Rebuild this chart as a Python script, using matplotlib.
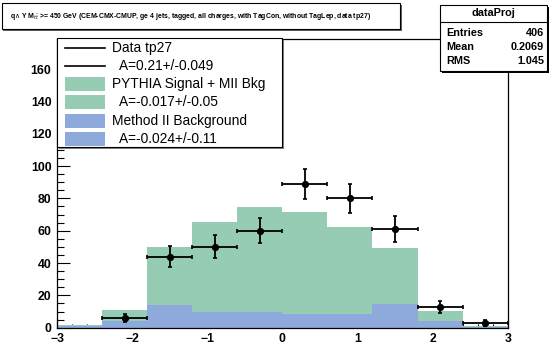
import matplotlib.pyplot as plt
from matplotlib.patches import Rectangle
from matplotlib.lines import Line2D
from matplotlib.ticker import MultipleLocator
import numpy as np

plt.rcParams['font.family'] = ['Liberation Sans', 'DejaVu Sans']

# binning and contents
bin_edges = [-3.0, -2.4, -1.8, -1.2, -0.6, 0.0, 0.6, 1.2, 1.8, 2.4, 3.0]
pythia_total = [1.5, 11, 50, 65.5, 74.5, 71.5, 62.5, 49, 10.5, 1.0]
method2_bkg = [1.0, 4.2, 14, 9.8, 10, 8.5, 8.5, 14.5, 4.3, 0.7]
data_counts = [0, 6, 44, 50, 60, 89, 80, 61, 13, 3]

legend_labels = ['Data tp27', '  A=0.21+/-0.049',
                 'PYTHIA Signal + MII Bkg', '  A=-0.017+/-0.05',
                 'Method II Background', '  A=-0.024+/-0.11']
stats_names = ['Entries', 'Mean', 'RMS']
stats_values = ['406', '0.2069', '1.045']
title_text = (r'q$\wedge$ Y M$_{t\bar{t}}$ >= 450 GeV (CEM-CMX-CMUP, ge 4 jets, tagged, '
              'all charges, with TagCon, without TagLep, data tp27)')

green = '#96cbb4'
blue = '#8ea9db'

W, H = 549, 348
fig = plt.figure(figsize=(W / 100, H / 100), dpi=100)


def fx(px):
    return px / W


def fy(py):
    return 1 - py / H


ax = fig.add_axes([fx(57), fy(327.7), (507.7 - 57) / W, (327.7 - 39.3) / H])

edges = np.array(bin_edges)
ax.stairs(pythia_total, edges, fill=True, color=green, zorder=1)
ax.stairs(method2_bkg, edges, fill=True, color=blue, zorder=1.1)

centers = 0.5 * (edges[:-1] + edges[1:])
half = 0.5 * np.diff(edges)
counts = np.array(data_counts, dtype=float)
keep = counts > 0
ax.errorbar(centers[keep], counts[keep], xerr=half[keep], yerr=np.sqrt(counts[keep]),
            fmt='o', color='black', ms=4.2, elinewidth=1.3, capsize=1.6, capthick=1.2,
            zorder=3)

ax.set_xlim(-3, 3)
ax.set_ylim(0, 178.4)
ax.set_axisbelow(True)
ax.xaxis.set_major_locator(MultipleLocator(1))
ax.xaxis.set_minor_locator(MultipleLocator(0.2))
ax.yaxis.set_major_locator(MultipleLocator(20))
ax.yaxis.set_minor_locator(MultipleLocator(5))
ax.tick_params(axis='y', which='major', direction='in', length=9.5, width=0.8,
               labelsize=8.8, pad=4)
ax.tick_params(axis='y', which='minor', direction='in', length=4.8, width=0.8)
ax.tick_params(axis='x', which='major', direction='in', length=6.2, width=0.8,
               labelsize=8.8, pad=3.5)
ax.tick_params(axis='x', which='minor', direction='in', length=3.1, width=0.8)
for lab in ax.get_xticklabels() + ax.get_yticklabels():
    lab.set_fontweight('bold')
for sp in ax.spines.values():
    sp.set_linewidth(0.9)

# legend box (ROOT style, overlapping the frame)
lx0, lx1, ly0, ly1 = 57, 282, 38, 147
fig.add_artist(Rectangle((fx(lx0) + 1.5 / W, fy(ly1) - 1.5 / H), (lx1 - lx0) / W,
                         (ly1 - ly0) / H, facecolor='#808080', edgecolor='none', zorder=9))
fig.add_artist(Rectangle((fx(lx0), fy(ly1)), (lx1 - lx0) / W, (ly1 - ly0) / H,
                         facecolor='white', edgecolor='black', lw=0.8, zorder=10))
row_h = (ly1 - ly0) / len(legend_labels)
for i, lab in enumerate(legend_labels):
    yc = ly0 + row_h * (i + 0.55)
    if i < 2:
        fig.add_artist(Line2D([fx(65), fx(105)], [fy(yc), fy(yc)], color='black',
                              lw=1.2, zorder=11))
    else:
        col = green if i < 4 else blue
        fig.add_artist(Rectangle((fx(65), fy(yc + 7)), 40 / W, 14 / H,
                                 facecolor=col, edgecolor='none', zorder=11))
    fig.text(fx(112), fy(yc), lab, fontsize=9.9, va='center', ha='left', zorder=12)

# stats box
sx0, sx1, sy0, sy1 = 440, 547, 5, 71
fig.add_artist(Rectangle((fx(sx0) + 2 / W, fy(sy1) - 2 / H), (sx1 - sx0) / W,
                         (sy1 - sy0) / H, facecolor='black', edgecolor='none', zorder=9))
fig.add_artist(Rectangle((fx(sx0), fy(sy1)), (sx1 - sx0) / W, (sy1 - sy0) / H,
                         facecolor='white', edgecolor='black', lw=0.8, zorder=10))
fig.add_artist(Line2D([fx(sx0), fx(sx1)], [fy(21.5), fy(21.5)], color='black', lw=0.8,
                      zorder=11))
fig.text(fx((sx0 + sx1) / 2), fy(13), 'dataProj', fontsize=7.8, fontweight='bold',
         ha='center', va='center', zorder=12)
for i, (nm, val) in enumerate(zip(stats_names, stats_values)):
    yc = 33.5 + i * 13.8
    fig.text(fx(446), fy(yc), nm, fontsize=7.8, fontweight='bold', ha='left',
             va='center', zorder=12)
    fig.text(fx(544), fy(yc), val, fontsize=7.8, fontweight='bold', ha='right',
             va='center', zorder=12)

# title box
tx0, tx1, ty0, ty1 = 2, 400, 3, 29
fig.add_artist(Rectangle((fx(tx0) + 1.5 / W, fy(ty1) - 1.5 / H), (tx1 - tx0) / W,
                         (ty1 - ty0) / H, facecolor='#606060', edgecolor='none', zorder=9))
fig.add_artist(Rectangle((fx(tx0), fy(ty1)), (tx1 - tx0) / W, (ty1 - ty0) / H,
                         facecolor='white', edgecolor='black', lw=0.8, zorder=10))
fig.text(fx(10), fy(16), title_text, fontsize=4.95, fontweight='bold', ha='left',
         va='center', zorder=12)

fig.savefig('out.png', dpi=100)
